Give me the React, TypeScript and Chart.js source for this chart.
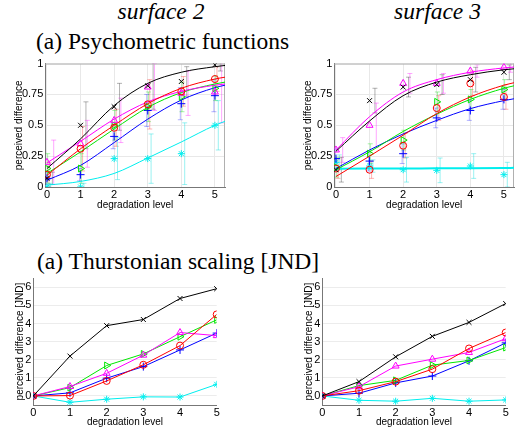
import React, { useEffect, useRef } from "react";
import { Chart, registerables } from "chart.js";
Chart.register(...registerables);

// ---------- data ----------
const LEVELS = [0, 1, 2, 3, 4, 5];
const CURVE_X = [0, 1, 2, 3, 4, 5, 5.3];
const PSY_Y_TICKS = [0, 0.25, 0.5, 0.75, 1];
const JND_Y_TICKS = [0, 1, 2, 3, 4, 5, 6];

// surface 2 – psychometric functions: measured points
const s2Black = [0.07, 0.5, 0.65, 0.82, 0.855, 0.99];
const s2Red = [0.1, 0.31, 0.48, 0.67, 0.775, 0.875];
const s2Magenta = [0.2, 0.35, 0.54, 0.81, 0.76, 0.77];
const s2Green = [0.15, 0.15, 0.5, 0.65, 0.73, 0.8];
const s2Blue = [0.07, 0.1, 0.41, 0.62, 0.675, 0.74];
const s2Cyan = [0.0, 0.0, 0.23, 0.23, 0.27, 0.5];
// surface 2 – fitted curves at CURVE_X
const s2BlackFit = [0.15, 0.39, 0.66, 0.84, 0.93, 0.975, 0.985];
const s2RedFit = [0.095, 0.31, 0.5, 0.675, 0.8, 0.875, 0.89];
const s2MagentaFit = [0.195, 0.37, 0.55, 0.69, 0.775, 0.825, 0.835];
const s2GreenFit = [0.11, 0.285, 0.47, 0.645, 0.765, 0.835, 0.85];
const s2BlueFit = [0.055, 0.175, 0.36, 0.55, 0.705, 0.805, 0.825];
const s2CyanFit = [0.015, 0.045, 0.11, 0.235, 0.365, 0.5, 0.532];
// surface 2 – error half-widths
const s2BlackErr = [0.05, 0.19, 0.19, 0.19, 0.12, 0.05];
const s2RedErr = [0.1, 0.18, 0.15, 0.2, 0.12, 0.1];
const s2MagentaErr = [0.18, 0.19, 0.18, 0.19, 0.18, 0.25];
const s2GreenErr = [0.12, 0.12, 0.12, 0.12, 0.12, 0.1];
const s2BlueErr = [0.05, 0.05, 0.1, 0.13, 0.13, 0.13];
const s2CyanErr = [0.03, 0.03, 0.17, 0.2, 0.25, 0.2];

// surface 3 – psychometric functions: measured points
const s3Black = [0.14, 0.7, 0.81, 0.83, 0.87, 0.93];
const s3Red = [0.15, 0.14, 0.335, 0.64, 0.84, 0.73];
const s3Magenta = [0.3, 0.5, 0.84, 0.84, 0.94, 0.97];
const s3Green = [0.16, 0.27, 0.38, 0.69, 0.71, 0.79];
const s3Blue = [0.23, 0.21, 0.27, 0.56, 0.62, 0.71];
const s3Cyan = [0.2, 0.17, 0.14, 0.135, 0.17, 0.1];
// surface 3 – fitted curves at CURVE_X
const s3BlackFit = [0.29, 0.535, 0.74, 0.85, 0.91, 0.95, 0.958];
const s3RedFit = [0.085, 0.25, 0.42, 0.595, 0.73, 0.825, 0.845];
const s3MagentaFit = [0.3, 0.57, 0.77, 0.87, 0.93, 0.965, 0.972];
const s3GreenFit = [0.14, 0.285, 0.45, 0.59, 0.71, 0.8, 0.82];
const s3BlueFit = [0.15, 0.3, 0.43, 0.54, 0.635, 0.7, 0.715];
const s3CyanFit = [0.148, 0.149, 0.15, 0.151, 0.152, 0.154, 0.155];
// surface 3 – error half-widths
const s3BlackErr = [0.1, 0.1, 0.08, 0.08, 0.1, 0.06];
const s3RedErr = [0.08, 0.07, 0.1, 0.1, 0.1, 0.1];
const s3MagentaErr = [0.1, 0.18, 0.08, 0.08, 0.05, 0.04];
const s3GreenErr = [0.08, 0.08, 0.08, 0.08, 0.08, 0.08];
const s3BlueErr = [0.08, 0.08, 0.08, 0.08, 0.08, 0.08];
const s3CyanErr = [0.06, 0.05, 0.1, 0.1, 0.1, 0.1];

// Thurstonian scaling [JND]
const j2Black = [0, 2.2, 3.88, 4.22, 5.38, 5.92];
const j2Red = [0, 0.02, 0.83, 1.72, 2.78, 4.5];
const j2Magenta = [0, 0.52, 1.25, 2.25, 3.5, 3.33];
const j2Green = [0, 0.46, 1.68, 2.32, 3.27, 4.2];
const j2Blue = [0, 0.17, 0.98, 1.62, 2.54, 3.47];
const j2Cyan = [0, -0.35, -0.18, -0.05, -0.06, 0.64];

const j3Black = [0, 0.79, 2.16, 3.29, 4.06, 5.1];
const j3Red = [0, 0.29, 0.79, 1.48, 2.62, 3.5];
const j3Magenta = [0, 0.51, 1.65, 2.03, 2.4, 3.16];
const j3Green = [0, 0.57, 0.86, 1.7, 1.96, 2.67];
const j3Blue = [0, 0.15, 0.72, 1.1, 1.94, 2.93];
const j3Cyan = [0, -0.24, -0.29, -0.13, -0.29, -0.22];

// ---------- styles ----------
const FONT = "'Liberation Sans', Arial, Helvetica, sans-serif";
type Mk = { color: string; err: string; style: any; radius: number; rot: number; off: number };
const MK: Record<string, Mk> = {
  black: { color: "#000000", err: "rgba(0,0,0,0.3)", style: "crossRot", radius: 3.5, rot: 0, off: 0.16 },
  red: { color: "#ff0000", err: "rgba(255,0,0,0.3)", style: "circle", radius: 3.5, rot: 0, off: 0.06 },
  magenta: { color: "#ff00ff", err: "rgba(255,0,255,0.35)", style: "triangle", radius: 4, rot: 0, off: 0.2 },
  green: { color: "#00e600", err: "rgba(0,220,0,0.35)", style: "triangle", radius: 4, rot: 90, off: 0.02 },
  blue: { color: "#0000ff", err: "rgba(0,0,255,0.3)", style: "cross", radius: 4, rot: 0, off: -0.03 },
  cyan: { color: "#00eeee", err: "rgba(0,220,220,0.4)", style: "star", radius: 3.5, rot: 0, off: 0.1 },
};

const errorBarPlugin = {
  id: "errorBars",
  beforeDatasetsDraw(chart: any) {
    const { ctx, chartArea, scales } = chart;
    const x = scales.x, y = scales.y;
    ctx.save();
    ctx.beginPath();
    ctx.rect(chartArea.left, chartArea.top, chartArea.right - chartArea.left, chartArea.bottom - chartArea.top);
    ctx.clip();
    chart.data.datasets.forEach((ds: any) => {
      if (!ds.errs) return;
      ctx.strokeStyle = ds.errColor;
      ctx.lineWidth = 1;
      ds.data.forEach((p: any, i: number) => {
        const e = ds.errs[i];
        const px = x.getPixelForValue(p.x + ds.errOffset);
        const y1 = y.getPixelForValue(p.y - e);
        const y2 = y.getPixelForValue(p.y + e);
        ctx.beginPath();
        ctx.moveTo(px, y1);
        ctx.lineTo(px, y2);
        ctx.moveTo(px - 2.5, y1);
        ctx.lineTo(px + 2.5, y1);
        ctx.moveTo(px - 2.5, y2);
        ctx.lineTo(px + 2.5, y2);
        ctx.stroke();
      });
    });
    ctx.restore();
  },
};

const boxPlugin = {
  id: "boxFrame",
  beforeDatasetsDraw(chart: any, _a: any, opts: any) {
    if (!opts || !opts.on) return;
    const { ctx, chartArea } = chart;
    ctx.save();
    ctx.strokeStyle = "#b0b0b0";
    ctx.lineWidth = 1;
    ctx.beginPath();
    ctx.moveTo(chartArea.left, chartArea.top + 0.5);
    ctx.lineTo(chartArea.right, chartArea.top + 0.5);
    ctx.moveTo(chartArea.right - 0.5, chartArea.top);
    ctx.lineTo(chartArea.right - 0.5, chartArea.bottom);
    ctx.stroke();
    ctx.restore();
  },
};

const pts = (ys: number[], xs: number[] = LEVELS) => xs.map((x, i) => ({ x, y: ys[i] }));

function psySeries(name: string, vals: number[], fit: number[], errs: number[], fitWidth = 1) {
  const m = MK[name];
  return [
    {
      type: "line",
      data: pts(vals),
      showLine: false,
      borderColor: m.color,
      backgroundColor: "rgba(0,0,0,0)",
      pointStyle: m.style,
      pointRadius: m.radius,
      pointRotation: m.rot,
      pointBorderWidth: 1,
      errs,
      errColor: m.err,
      errOffset: m.off,
    },
    {
      type: "line",
      data: pts(fit, CURVE_X),
      borderColor: m.color,
      borderWidth: fitWidth,
      pointRadius: 0,
      cubicInterpolationMode: "monotone",
      fill: false,
    },
  ];
}

function jndSeries(name: string, vals: number[]) {
  const m = MK[name];
  return {
    type: "line",
    data: pts(vals),
    borderColor: m.color,
    borderWidth: 1,
    backgroundColor: "rgba(0,0,0,0)",
    pointStyle: m.style,
    pointRadius: m.radius,
    pointRotation: m.rot,
    pointBorderWidth: 1,
    tension: 0,
  };
}

const tickFont = { family: FONT, size: 11 };
const titleFont = { family: FONT, size: 10 };

function psyOptions() {
  return {
    responsive: false,
    animation: false,
    events: [],
    layout: { padding: { top: 7.7, right: 14, left: 0, bottom: 0 } },
    plugins: { legend: { display: false }, tooltip: { enabled: false }, boxFrame: { on: true } },
    scales: {
      x: {
        type: "linear",
        min: -0.05,
        max: 5.3,
        afterBuildTicks: (s: any) => { s.ticks = LEVELS.map((v) => ({ value: v })); },
        afterFit: (s: any) => { s.height = 33; },
        ticks: { font: tickFont, color: "#000", padding: 1, autoSkip: false, maxRotation: 0, callback: (v: any) => String(v) },
        grid: { color: "#e8e8e8", drawTicks: false },
        border: { color: "#777" },
        title: { display: true, text: "degradation level", font: titleFont, color: "#000", padding: { top: 0, bottom: 9 } },
      },
      y: {
        type: "linear",
        min: 0,
        max: 1,
        afterBuildTicks: (s: any) => { s.ticks = PSY_Y_TICKS.map((v) => ({ value: v })); },
        afterFit: (s: any) => { s.width = 45.3; },
        ticks: { font: tickFont, color: "#000", padding: 2, autoSkip: false, callback: (v: any) => String(v) },
        grid: { color: "#e8e8e8", drawTicks: false },
        border: { color: "#777" },
        title: { display: true, text: "perceived difference", font: titleFont, color: "#000", padding: { top: 13.5, bottom: 0 } },
      },
    },
  };
}

function jndOptions() {
  return {
    responsive: false,
    animation: false,
    events: [],
    layout: { padding: { top: 13.2, right: 22.3, left: 0, bottom: 0 } },
    plugins: { legend: { display: false }, tooltip: { enabled: false }, boxFrame: { on: false } },
    scales: {
      x: {
        type: "linear",
        min: 0,
        max: 5,
        afterBuildTicks: (s: any) => { s.ticks = LEVELS.map((v) => ({ value: v })); },
        afterFit: (s: any) => { s.height = 29; },
        ticks: { font: tickFont, color: "#000", padding: 1, autoSkip: false, maxRotation: 0, callback: (v: any) => String(v) },
        grid: { display: false, drawTicks: false },
        border: { color: "#777" },
        title: { display: true, text: "degradation level", font: titleFont, color: "#000", padding: { top: 0, bottom: 5.5 } },
      },
      y: {
        type: "linear",
        min: -0.5,
        max: 6.5,
        afterBuildTicks: (s: any) => { s.ticks = JND_Y_TICKS.map((v) => ({ value: v })); },
        afterFit: (s: any) => { s.width = 33.3; },
        ticks: { font: tickFont, color: "#000", padding: 2, autoSkip: false, callback: (v: any) => String(v) },
        grid: { color: "#ececec", drawTicks: false },
        border: { color: "#777" },
        title: { display: true, text: "perceived difference [JND]", font: titleFont, color: "#000", padding: { top: 14, bottom: 0 } },
      },
    },
  };
}

function Panel({ left, top, width, height, datasets, options }: any) {
  const ref = useRef<HTMLCanvasElement | null>(null);
  useEffect(() => {
    if (!ref.current) return;
    const chart = new Chart(ref.current, {
      type: "line",
      data: { datasets },
      options,
      plugins: [errorBarPlugin, boxPlugin],
    } as any);
    return () => chart.destroy();
  }, []);
  return (
    <canvas
      ref={ref}
      width={width}
      height={height}
      style={{ position: "absolute", left, top, width, height }}
    />
  );
}

const headSerif = "'Liberation Serif', 'Times New Roman', Times, serif";

export default function App() {
  const s2 = [
    ...psySeries("black", s2Black, s2BlackFit, s2BlackErr),
    ...psySeries("red", s2Red, s2RedFit, s2RedErr),
    ...psySeries("magenta", s2Magenta, s2MagentaFit, s2MagentaErr),
    ...psySeries("green", s2Green, s2GreenFit, s2GreenErr),
    ...psySeries("blue", s2Blue, s2BlueFit, s2BlueErr),
    ...psySeries("cyan", s2Cyan, s2CyanFit, s2CyanErr),
  ];
  const s3 = [
    ...psySeries("black", s3Black, s3BlackFit, s3BlackErr),
    ...psySeries("magenta", s3Magenta, s3MagentaFit, s3MagentaErr),
    ...psySeries("red", s3Red, s3RedFit, s3RedErr),
    ...psySeries("green", s3Green, s3GreenFit, s3GreenErr),
    ...psySeries("blue", s3Blue, s3BlueFit, s3BlueErr),
    ...psySeries("cyan", s3Cyan, s3CyanFit, s3CyanErr, 2),
  ];
  const j2 = [
    jndSeries("black", j2Black),
    jndSeries("red", j2Red),
    jndSeries("magenta", j2Magenta),
    jndSeries("green", j2Green),
    jndSeries("blue", j2Blue),
    jndSeries("cyan", j2Cyan),
  ];
  const j3 = [
    jndSeries("black", j3Black),
    jndSeries("red", j3Red),
    jndSeries("magenta", j3Magenta),
    jndSeries("green", j3Green),
    jndSeries("blue", j3Blue),
    jndSeries("cyan", j3Cyan),
  ];
  const head: any = { position: "absolute", fontFamily: headSerif, fontSize: "23.5px", lineHeight: 1, color: "#000", whiteSpace: "nowrap" };
  return (
    <div style={{ position: "fixed", left: 0, top: 0, width: 528, height: 434, background: "#fff", overflow: "hidden" }}>
      <div style={{ ...head, left: 61, top: 0, width: 200, textAlign: "center", fontStyle: "italic" }}>surface 2</div>
      <div style={{ ...head, left: 337.5, top: 0, width: 200, textAlign: "center", fontStyle: "italic" }}>surface 3</div>
      <div style={{ ...head, left: 36, top: 30.3 }}>(a) Psychometric functions</div>
      <div style={{ ...head, left: 37, top: 250.3 }}>(a) Thurstonian scaling [JND]</div>
      <Panel left={0} top={55} width={239} height={165} datasets={s2} options={psyOptions()} />
      <Panel left={289} top={55} width={239} height={165} datasets={s3} options={psyOptions()} />
      <Panel left={0} top={265} width={239} height={169} datasets={j2} options={jndOptions()} />
      <Panel left={289} top={265} width={239} height={169} datasets={j3} options={jndOptions()} />
    </div>
  );
}
